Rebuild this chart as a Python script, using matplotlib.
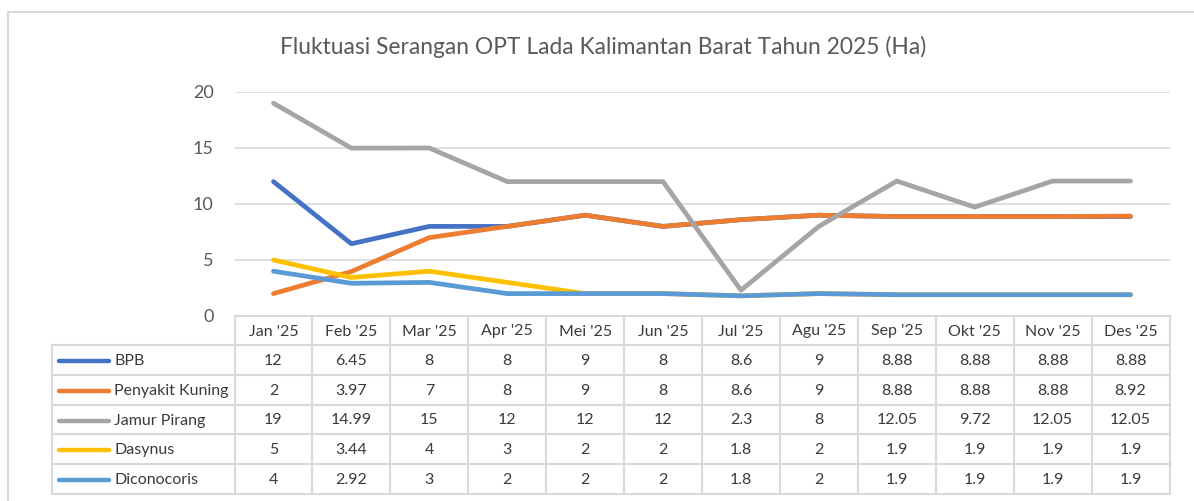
import matplotlib
matplotlib.use('Agg')
import matplotlib.pyplot as plt

months = ["Jan '25", "Feb '25", "Mar '25", "Apr '25", "Mei '25", "Jun '25",
          "Jul '25", "Agu '25", "Sep '25", "Okt '25", "Nov '25", "Des '25"]

bpb = [12, 6.45, 8, 8, 9, 8, 8.6, 9, 8.88, 8.88, 8.88, 8.88]
penyakit_kuning = [2, 3.97, 7, 8, 9, 8, 8.6, 9, 8.88, 8.88, 8.88, 8.92]
jamur_pirang = [19, 14.99, 15, 12, 12, 12, 2.3, 8, 12.05, 9.72, 12.05, 12.05]
dasynus = [5, 3.44, 4, 3, 2, 2, 1.8, 2, 1.9, 1.9, 1.9, 1.9]
diconocoris = [4, 2.92, 3, 2, 2, 2, 1.8, 2, 1.9, 1.9, 1.9, 1.9]

series_names = ["BPB", "Penyakit Kuning", "Jamur Pirang", "Dasynus", "Diconocoris"]
series_values = [bpb, penyakit_kuning, jamur_pirang, dasynus, diconocoris]
colors = ["#4472C4", "#ED7D31", "#A5A5A5", "#FFC000", "#5B9BD5"]

title = "Fluktuasi Serangan OPT Lada Kalimantan Barat Tahun 2025 (Ha)"

plt.rcParams['font.family'] = ['Lato', 'DejaVu Sans']

W, H = 1194, 501
fig = plt.figure(figsize=(W / 100, H / 100), dpi=100)

grid_col = "#d9d9d9"
text_col = "#3a3a3a"

# layout in pixels
tbl_left, tbl_right = 234.5, 1169.5
leg_left = 52
y_top, y_zero = 92, 316
head_bot = 345
row_h = (494 - head_bot) / len(series_names)
cw = (tbl_right - tbl_left) / len(months)

# background overlay for border and table (pixel coordinates)
ax_t = fig.add_axes([0, 0, 1, 1])
ax_t.set_xlim(0, W)
ax_t.set_ylim(H, 0)
ax_t.axis('off')

# chart border
ax_t.plot([8, 8, W + 5], [H + 5, 12, 12], color=grid_col, lw=1.5)

ax = fig.add_axes([tbl_left / W, 1 - y_zero / H,
                   (tbl_right - tbl_left) / W, (y_zero - y_top) / H])
ax.set_xlim(-0.5, len(months) - 0.5)
ax.set_ylim(0, 20)
ax.patch.set_alpha(0)
for s in ax.spines.values():
    s.set_visible(False)
ax.set_xticks([])
ax.set_yticks([0, 5, 10, 15, 20])
ax.tick_params(axis='y', length=0, pad=15, labelsize=13, labelcolor="#595959")
for yv in [5, 10, 15, 20]:
    ax.axhline(yv, color=grid_col, lw=1.2, zorder=0)

x = range(len(months))
for vals, c in zip(series_values, colors):
    ax.plot(x, vals, color=c, lw=3.4, solid_capstyle='round',
            solid_joinstyle='round', clip_on=False)

fig.text(603 / W, 1 - 47 / H, title, ha='center', va='center',
         fontsize=16.4, color="#595959")

# data table
lkw = dict(color=grid_col, lw=1.5)
ax_t.plot([tbl_left, tbl_right], [y_zero, y_zero], **lkw)
for k in range(len(series_names) + 1):
    yy = head_bot + k * row_h
    ax_t.plot([leg_left, tbl_right], [yy, yy], **lkw)
ax_t.plot([leg_left, leg_left], [head_bot, 494], **lkw)
for i in range(len(months) + 1):
    xx = tbl_left + i * cw
    ax_t.plot([xx, xx], [y_zero, 494], **lkw)

for i, m in enumerate(months):
    ax_t.text(tbl_left + (i + 0.5) * cw, (y_zero + head_bot) / 2 + 1, m,
              ha='center', va='center', fontsize=11.5, color=text_col)

for k, (name, vals, c) in enumerate(zip(series_names, series_values, colors)):
    yc = head_bot + (k + 0.5) * row_h + 1
    ax_t.plot([59, 109], [yc, yc], color=c, lw=3.2, solid_capstyle='round')
    ax_t.text(114, yc, name, ha='left', va='center', fontsize=11.5, color=text_col)
    for i, v in enumerate(vals):
        ax_t.text(tbl_left + (i + 0.5) * cw, yc, f"{v:g}", ha='center',
                  va='center', fontsize=11.5, color=text_col)

fig.savefig("out.png", dpi=100)
